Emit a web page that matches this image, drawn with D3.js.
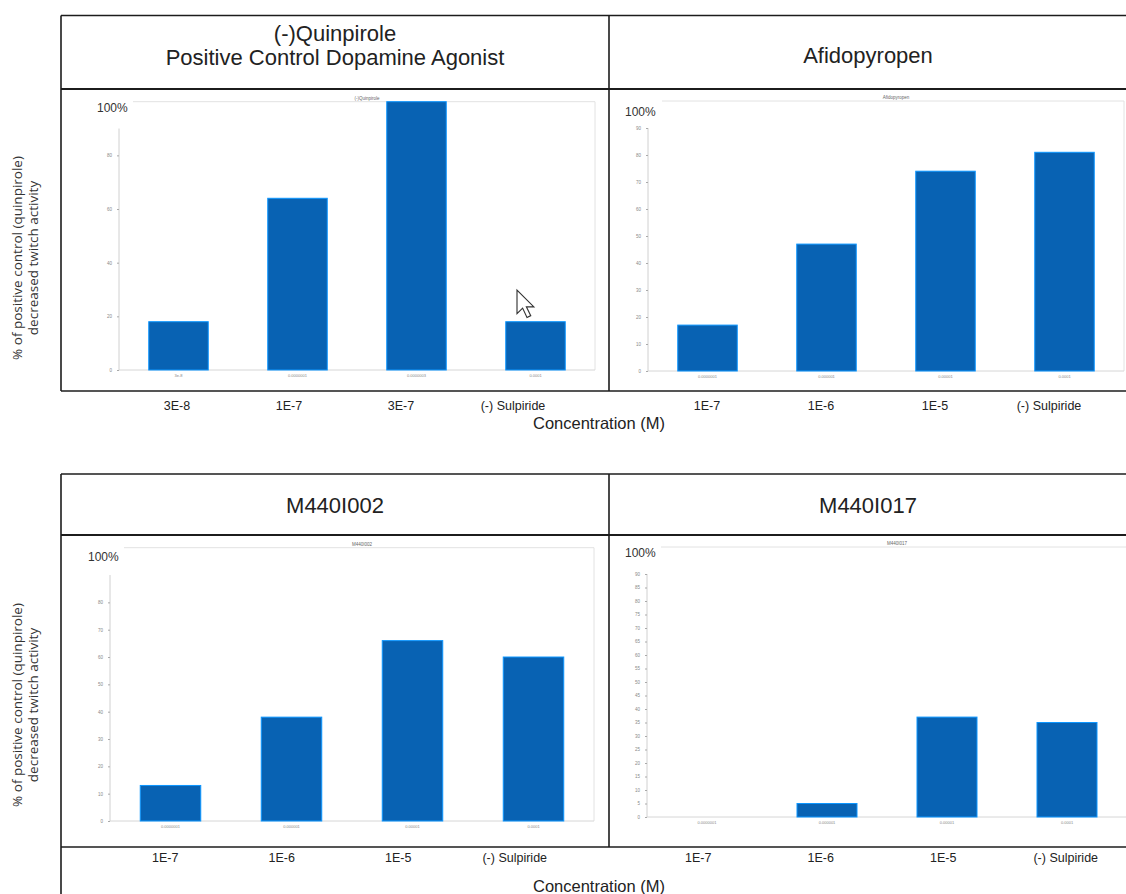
<!DOCTYPE html>
<html>
<head>
<meta charset="utf-8">
<script src="https://cdn.jsdelivr.net/npm/d3@7"></script>
<style>
  body { margin: 0; background: #fff; }
  svg { display: block; font-family: "Liberation Sans", Arial, sans-serif; }
</style>
</head>
<body>
<div id="chart"></div>
<script>
// values (% of quinpirole response)
var quinCats = ["3E-8", "1E-7", "3E-7", "(-) Sulpiride"];
var quinValues = [18, 64, 100, 18];
var quinTicks = [0, 20, 40, 60, 80];
var quinInner = ["3e-8", "0.0000001", "0.0000003", "0.0001"];

var afidoCats = ["1E-7", "1E-6", "1E-5", "(-) Sulpiride"];
var afidoValues = [17, 47, 74, 81];
var afidoTicks = [0, 10, 20, 30, 40, 50, 60, 70, 80, 90];

var m002Cats = ["1E-7", "1E-6", "1E-5", "(-) Sulpiride"];
var m002Values = [13, 38, 66, 60];
var m002Ticks = [0, 10, 20, 30, 40, 50, 60, 70, 80];

var m017Cats = ["1E-7", "1E-6", "1E-5", "(-) Sulpiride"];
var m017Values = [0, 5, 37, 35];
var m017Ticks = [0, 5, 10, 15, 20, 25, 30, 35, 40, 45, 50, 55, 60, 65, 70, 75, 80, 85, 90];

var innerLabels = ["0.0000001", "0.000001", "0.00001", "0.0001"];

var panelTitles = [
  ["(-)Quinpirole", "Positive Control Dopamine Agonist"],
  ["Afidopyropen"],
  ["M440I002"],
  ["M440I017"]
];
var smallTitles = ["(-)Quinpirole", "Afidopyropen", "M440I002", "M440I017"];
var yLabelLines = ["% of positive control (quinpirole)", "decreased twitch activity"];
var xTitle = "Concentration (M)";

var W = 1126, H = 894;
var barBlue = "#0862b3";
var lineCol = "#1c1c1c";

var svg = d3.select("#chart").append("svg")
  .attr("width", W)
  .attr("height", H);

// ---- slide frame (two table blocks) ----
function hline(y, x1, x2, w) {
  svg.append("line").attr("x1", x1).attr("x2", x2).attr("y1", y).attr("y2", y)
    .attr("stroke", lineCol).attr("stroke-width", w || 1.6);
}
function vline(x, y1, y2, w) {
  svg.append("line").attr("x1", x).attr("x2", x).attr("y1", y1).attr("y2", y2)
    .attr("stroke", lineCol).attr("stroke-width", w || 1.6);
}

// top block
hline(15.5, 61, W);
hline(89, 61, W, 2);
hline(391, 61, W);
vline(61, 15.5, 391);
vline(609, 15.5, 391);
// bottom block
hline(474, 61, W);
hline(535, 61, W, 2);
hline(847, 61, W);
vline(61, 474, H);
vline(609, 474, 847);

// panel titles
function title(lines, cx, cy, spacing) {
  var t = svg.append("text")
    .attr("x", cx).attr("y", cy)
    .attr("text-anchor", "middle")
    .attr("font-size", 22)
    .attr("fill", "#222");
  lines.forEach(function (l, i) {
    t.append("tspan").attr("x", cx).attr("dy", i === 0 ? 0 : spacing).text(l);
  });
}
title(panelTitles[0], 335, 41, 24);
title(panelTitles[1], 868, 63);
title(panelTitles[2], 335, 513);
title(panelTitles[3], 868, 513);

// y axis labels (rotated, two lines)
function yLabel(cy) {
  var t = svg.append("text")
    .attr("transform", "translate(22," + cy + ") rotate(-90)")
    .attr("text-anchor", "middle")
    .attr("font-family", "'Open Sans', sans-serif")
    .attr("font-size", 13.5)
    .attr("fill", "#333");
  yLabelLines.forEach(function (l, i) {
    t.append("tspan").attr("x", 0).attr("dy", i === 0 ? 0 : 16).text(l);
  });
}
yLabel(258);
yLabel(705);

// ---- the four bar charts ----
var panels = [
  { cats: quinCats, vals: quinValues, ticks: quinTicks, inner: quinInner, name: smallTitles[0],
    x0: 119, x1: 595, yBase: 370, yTop: 101.7, hx: 97, hy: 112,
    lab: [121, 569], labY: 410 },
  { cats: afidoCats, vals: afidoValues, ticks: afidoTicks, inner: innerLabels, name: smallTitles[1],
    x0: 648, x1: 1124, yBase: 371, yTop: 101, hx: 625, hy: 116,
    lab: [650, 1106], labY: 410 },
  { cats: m002Cats, vals: m002Values, ticks: m002Ticks, inner: innerLabels, name: smallTitles[2],
    x0: 110, x1: 594, yBase: 821, yTop: 547.7, hx: 88, hy: 561,
    lab: [107, 573], labY: 862 },
  { cats: m017Cats, vals: m017Values, ticks: m017Ticks, inner: innerLabels, name: smallTitles[3],
    x0: 647, x1: 1127, yBase: 817, yTop: 547, hx: 625, hy: 557,
    lab: [637, 1127], labY: 862 }
];

panels.forEach(function (p) {
  var g = svg.append("g");

  var x = d3.scaleBand()
    .domain(p.cats)
    .range([p.x0, p.x1])
    .paddingInner(0.5)
    .paddingOuter(0.25);

  var y = d3.scaleLinear()
    .domain([0, 100])
    .range([p.yBase, p.yTop]);

  // faint plot frame
  g.append("path")
    .attr("d", "M" + (p.x0 + 14) + "," + p.yTop + "H" + p.x1 + "V" + p.yBase)
    .attr("fill", "none")
    .attr("stroke", "#e2e2e2");
  g.append("line")
    .attr("x1", p.x0).attr("x2", p.x1)
    .attr("y1", p.yBase).attr("y2", p.yBase)
    .attr("stroke", "#d6d6d6");

  // tiny inner chart title
  g.append("text")
    .attr("x", (p.x0 + p.x1) / 2 + 10)
    .attr("y", p.yTop - 2)
    .attr("text-anchor", "middle")
    .attr("font-size", 4.5)
    .attr("fill", "#666")
    .text(p.name);

  // y axis with tiny tick labels
  var yAxis = d3.axisLeft(y)
    .tickValues(p.ticks)
    .tickSize(2)
    .tickPadding(5)
    .tickFormat(d3.format("d"));
  var ay = g.append("g")
    .attr("transform", "translate(" + p.x0 + ",0)")
    .call(yAxis);
  ay.select(".domain")
    .attr("d", "M0," + y(0) + "V" + y(90))
    .attr("stroke", "#d0d0d0");
  ay.selectAll(".tick line").attr("stroke", "#aaa");
  ay.selectAll(".tick text").attr("font-size", 4.5).attr("fill", "#888");

  // "100%" marker
  g.append("text")
    .attr("x", p.hx).attr("y", p.hy)
    .attr("font-size", 12)
    .attr("fill", "#333")
    .text("100%");

  // bars
  g.selectAll("rect.bar")
    .data(p.vals)
    .enter().append("rect")
    .attr("class", "bar")
    .attr("x", function (d, i) { return x(p.cats[i]); })
    .attr("width", x.bandwidth())
    .attr("y", function (d) { return y(d); })
    .attr("height", function (d) { return y(0) - y(d); })
    .attr("fill", barBlue)
    .attr("stroke", d3.color(barBlue).brighter(1.2))
    .attr("stroke-width", function (d) { return d > 0 ? 1 : 0; });

  // tiny inner category labels under the bars
  g.selectAll("text.inner")
    .data(p.inner)
    .enter().append("text")
    .attr("class", "inner")
    .attr("x", function (d, i) { return x(p.cats[i]) + x.bandwidth() / 2; })
    .attr("y", p.yBase + 7)
    .attr("text-anchor", "middle")
    .attr("font-size", 4)
    .attr("fill", "#888")
    .text(function (d) { return d; });

  // slide level concentration labels
  var xl = d3.scaleBand().domain(p.cats).range(p.lab);
  g.selectAll("text.conc")
    .data(p.cats)
    .enter().append("text")
    .attr("class", "conc")
    .attr("x", function (d) { return xl(d) + xl.bandwidth() / 2; })
    .attr("y", p.labY)
    .attr("text-anchor", "middle")
    .attr("font-size", 12.5)
    .attr("fill", "#222")
    .text(function (d) { return d; });
});

// x axis titles
svg.append("text")
  .attr("x", 599).attr("y", 429)
  .attr("text-anchor", "middle")
  .attr("font-size", 16.5)
  .attr("fill", "#222")
  .text(xTitle);
svg.append("text")
  .attr("x", 599).attr("y", 892)
  .attr("text-anchor", "middle")
  .attr("font-size", 16.5)
  .attr("fill", "#222")
  .text(xTitle);

// mouse pointer captured in the top-left screenshot
svg.append("path")
  .attr("transform", "translate(517,290) scale(1.25)")
  .attr("d", "M0,0 L0,19 L4.5,14.5 L8,22 L11,20.5 L7.5,13.5 L13.5,13.5 Z")
  .attr("fill", "#fff")
  .attr("stroke", "#333")
  .attr("stroke-width", 0.9);
</script>
</body>
</html>
